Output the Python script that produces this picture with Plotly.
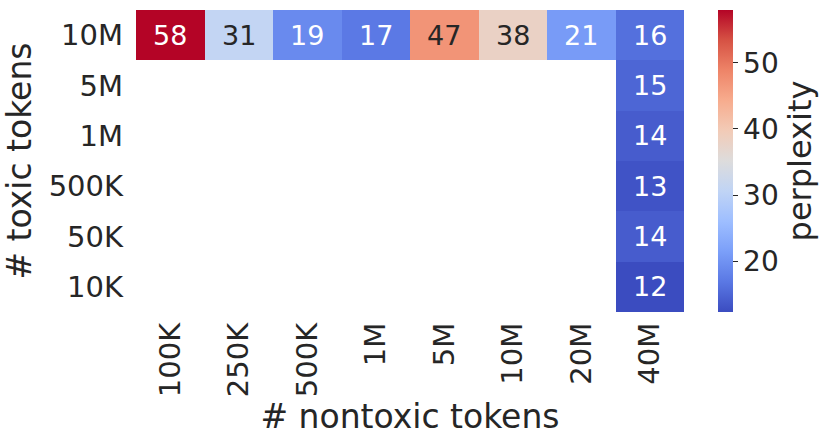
import plotly.graph_objects as go

nontoxic = ["100K", "250K", "500K", "1M", "5M", "10M", "20M", "40M"]
toxic = ["10M", "5M", "1M", "500K", "50K", "10K"]
row_10M = [58, 31, 19, 17, 47, 38, 21, 16]
col_40M = [16, 15, 14, 13, 14, 12]  # 10M..10K at 40M nontoxic
zmin, zmax = 12.3, 58.0

z = []
for i, t in enumerate(toxic):
    row = [None] * len(nontoxic)
    if t == "10M":
        row = list(row_10M)
    row[-1] = col_40M[i]
    z.append(row)

coolwarm = [
    [0.0, "#3b4cc0"], [0.1, "#5a78e4"], [0.2, "#7b9ff9"], [0.3, "#9ebeff"],
    [0.4, "#c0d4f5"], [0.5, "#dddcdc"], [0.6, "#f2cbb7"], [0.7, "#f7ac8e"],
    [0.8, "#ee8468"], [0.9, "#d65244"], [1.0, "#b40426"],
]

FONT = "DejaVu Sans"
INK = "#262626"

fig = go.Figure(go.Heatmap(
    z=z, x=nontoxic, y=toxic, colorscale=coolwarm, zmin=zmin, zmax=zmax,
    xgap=0, ygap=0, hoverongaps=False,
    colorbar=dict(
        x=1.062, xanchor="left", xpad=0, y=0.5, yanchor="middle", ypad=0,
        len=1.0, lenmode="fraction",
        thickness=15, outlinewidth=0, ticks="outside", ticklen=5, tickwidth=1.2,
        tickcolor=INK, tickvals=[20, 30, 40, 50],
        tickfont=dict(family=FONT, size=28, color=INK),
        title=dict(text="perplexity", side="right",
                   font=dict(family=FONT, size=32, color=INK)),
    ),
))

annotations = []
for i, t in enumerate(toxic):
    for j, n in enumerate(nontoxic):
        v = z[i][j]
        if v is None:
            continue
        frac = (v - zmin) / (zmax - zmin)
        light = 0.33 < frac < 0.85
        annotations.append(dict(
            x=n, y=t, text=str(v), showarrow=False,
            font=dict(family=FONT, size=27, color=INK if light else "white"),
        ))

fig.update_layout(
    width=830, height=448, margin=dict(l=136, r=146, t=10, b=136, autoexpand=False),
    plot_bgcolor="white", paper_bgcolor="white",
    annotations=annotations,
    xaxis=dict(tickangle=-90, showgrid=False, zeroline=False, ticks="",
               ticklabelstandoff=4,
               tickfont=dict(family=FONT, size=29, color=INK),
               title=dict(text="# nontoxic tokens", standoff=6,
                          font=dict(family=FONT, size=33, color=INK))),
    yaxis=dict(autorange="reversed", showgrid=False, zeroline=False, ticks="",
               ticklabelstandoff=12,
               tickfont=dict(family=FONT, size=29, color=INK),
               title=dict(text="# toxic tokens", standoff=8,
                          font=dict(family=FONT, size=33, color=INK))),
)

fig.write_html("out.html", config={"displayModeBar": False},
               post_script="document.body.style.margin='0';")
